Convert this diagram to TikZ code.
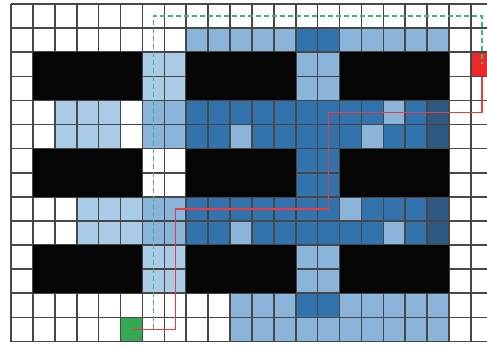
\documentclass[tikz,border=0pt]{standalone}
\begin{document}
\begin{tikzpicture}[x=1pt,y=1pt,
  cW/.style={fill=white}, cK/.style={fill=blk}, cL/.style={fill=lightb},
  cM/.style={fill=medb}, cD/.style={fill=darkb}, cN/.style={fill=navyb},
  cR/.style={fill=redsq}, cG/.style={fill=greensq},
  gridline/.style={draw=black!72, line width=1.6pt},
  square/.style={minimum width=21.9pt, minimum height=24.1pt, inner sep=0pt, draw=black!72, line width=1.6pt},
  route/.style={draw=redline, line width=1.5pt},
  scan/.style={draw=dashgreen, line width=1.5pt, dash pattern=on 5pt off 3pt}]
\definecolor{blk}{HTML}{050505}
\definecolor{lightb}{HTML}{A9CBE6}
\definecolor{medb}{HTML}{8AB4DA}
\definecolor{darkb}{HTML}{3273AD}
\definecolor{navyb}{HTML}{2D5983}
\definecolor{redsq}{HTML}{EE2828}
\definecolor{greensq}{HTML}{34A853}
\definecolor{redline}{HTML}{EE3A40}
\definecolor{dashgreen}{HTML}{3CB878}
\useasboundingbox (0,0) rectangle (487,-346);
\clip (0,0) rectangle (487,-346);
\fill[white] (0,0) rectangle (487,-346);
% cells
\foreach \row [count=\r from 0] in {
 {W,W,W,W,W,W,W,W,W,W,W,W,W,W,W,W,W,W,W,W,W,W},
 {W,W,W,W,W,W,W,W,M,M,M,M,M,D,D,M,M,M,M,M,W,W},
 {W,K,K,K,K,K,L,L,K,K,K,K,K,M,M,K,K,K,K,K,W,R},
 {W,K,K,K,K,K,L,L,K,K,K,K,K,M,M,K,K,K,K,K,W,W},
 {W,W,L,L,L,W,M,M,D,D,D,D,D,D,D,D,D,M,D,N,W,W},
 {W,W,L,L,L,W,M,M,D,D,M,D,D,D,D,D,M,D,D,N,W,W},
 {W,K,K,K,K,K,W,W,K,K,K,K,K,D,D,K,K,K,K,K,W,W},
 {W,K,K,K,K,K,W,W,K,K,K,K,K,D,D,K,K,K,K,K,W,W},
 {W,W,W,L,L,L,M,M,D,D,D,D,D,D,D,M,D,D,D,N,W,W},
 {W,W,W,L,L,L,M,M,D,D,M,D,D,D,D,D,D,M,D,N,W,W},
 {W,K,K,K,K,K,L,L,K,K,K,K,K,M,M,K,K,K,K,K,W,W},
 {W,K,K,K,K,K,L,L,K,K,K,K,K,M,M,K,K,K,K,K,W,W},
 {W,W,W,W,W,W,W,W,W,W,M,M,M,D,D,M,M,M,M,M,W,W},
 {W,W,W,W,W,G,W,W,W,W,M,M,M,M,M,M,M,M,M,M,W,W}}
{
  \foreach \c [count=\i from 0] in \row {
    \fill[c\c] ({11+\i*21.9},{-4-\r*24.1}) rectangle ({11+(\i+1)*21.9},{-4-(\r+1)*24.1});
  }
}
% grid
\foreach \i in {0,...,22} \draw[gridline] ({11+\i*21.9},-4) -- ({11+\i*21.9},-342);
\foreach \r in {0,...,14} \draw[gridline] (11,{-4-\r*24.1}) -- (493,{-4-\r*24.1});
% black blocks over the grid
\foreach \x/\y/\w in {1/2/5,8/2/5,15/2/5,1/6/5,8/6/5,15/6/5,1/10/5,8/10/5,15/10/5}
  \fill[blk] ({11+\x*21.9},{-4-\y*24.1}) rectangle ({11+(\x+\w)*21.9},{-4-(\y+2)*24.1});
% start and goal
\node[square, fill=greensq] (start) at (131.45,-329.35) {};
\node[square, fill=redsq] (goal) at (481.85,-64.25) {};
% path coordinates
\coordinate (p1) at (175.25,-329.35);
\coordinate (p2) at (175.25,-208.85);
\coordinate (p3) at (328.55,-208.85);
\coordinate (p4) at (328.55,-112.45);
\coordinate (p5) at (481.85,-112.45);
\coordinate (d0) at (153.35,-329.35);
\coordinate (d1) at (153.35,-16.05);
\coordinate (d2) at (481.85,-16.05);
\draw[route] (start.center) -- (p1) -- (p2) -- (p3) -- (p4) -- (p5) -- (goal.south);
\draw[scan] (d0) -- (d1) -- (d2) -- (goal.center);
\end{tikzpicture}
\end{document}
